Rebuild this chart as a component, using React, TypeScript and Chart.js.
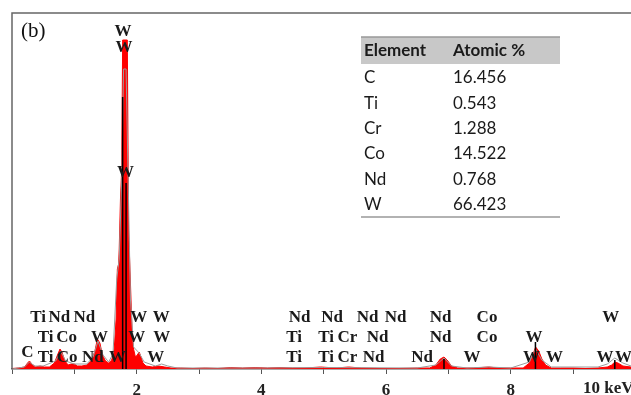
import { useEffect, useRef } from 'react';
import { Chart, registerables } from 'chart.js';

Chart.register(...registerables);

// Measured spectrum (keV, counts)
const spectrumEnergy = [
  0, 0.1, 0.2, 0.25, 0.28, 0.32, 0.38, 0.45, 0.52, 0.6,
  0.68, 0.73, 0.77, 0.8, 0.85, 0.9, 0.95, 1.0, 1.05, 1.12,
  1.2, 1.28, 1.33, 1.37, 1.41, 1.45, 1.5, 1.55, 1.6, 1.64,
  1.67, 1.69, 1.71, 1.72, 1.74, 1.76, 1.775, 1.85, 1.87, 1.9,
  1.925, 1.95, 1.98, 2.01, 2.04, 2.07, 2.1, 2.15, 2.25, 2.35,
  2.45, 2.55, 2.7, 2.9, 3.1, 3.3, 3.5, 3.7, 3.9, 4.1,
  4.3, 4.5, 4.7, 4.95, 5.2, 5.4, 5.6, 5.9, 6.2, 6.5,
  6.7, 6.8, 6.87, 6.93, 6.98, 7.05, 7.15, 7.4, 7.65, 7.8,
  8.0, 8.2, 8.3, 8.36, 8.4, 8.45, 8.5, 8.56, 8.65, 8.8,
  9.0, 9.2, 9.4, 9.55, 9.62, 9.67, 9.72, 9.8, 9.93,
];
const spectrumCounts = [
  5, 10, 20, 60, 80, 50, 20, 30, 20, 20,
  60, 140, 200, 170, 80, 40, 50, 50, 30, 30,
  40, 90, 180, 300, 260, 140, 80, 60, 90, 200,
  500, 1000, 1050, 1200, 1700, 2000, 3290, 3290, 1400, 860,
  400, 200, 120, 140, 170, 120, 60, 30, 20, 30,
  20, 10, 10, 5, 10, 5, 15, 10, 15, 10,
  15, 10, 10, 20, 10, 20, 10, 5, 5, 10,
  10, 40, 100, 120, 90, 30, 10, 10, 20, 10,
  10, 10, 60, 150, 220, 180, 100, 40, 10, 10,
  10, 5, 10, 20, 40, 70, 60, 30, 20,
];

// Fitted envelope (grey line)
const fitEnergy = [
  0, 0.2, 0.28, 0.36, 0.5, 0.7, 0.78, 0.86, 1.0, 1.2,
  1.3, 1.38, 1.46, 1.55, 1.62, 1.68, 1.72, 1.76, 1.79, 1.83,
  1.86, 1.9, 1.95, 2.04, 2.12, 2.3, 2.4, 2.5, 2.65, 3.0,
  4.0, 5.0, 6.5, 6.8, 6.93, 7.05, 7.3, 7.65, 8.0, 8.3,
  8.4, 8.5, 8.65, 9.4, 9.55, 9.67, 9.8, 9.93,
];
const fitCounts = [
  0, 20, 70, 30, 30, 80, 180, 80, 50, 50,
  120, 280, 140, 70, 150, 900, 1100, 1900, 3000, 3000,
  2000, 700, 220, 160, 70, 30, 50, 30, 10, 10,
  10, 15, 10, 40, 110, 30, 10, 20, 10, 70,
  200, 90, 20, 20, 50, 110, 60, 30,
];

// KLM marker lines (black)
const markerEnergy = [1.775, 1.83, 6.93, 8.397, 9.67];
const markerCounts = [2720, 1860, 100, 270, 90];

// Axis
const xTickValues = [2, 4, 6, 8];
const unitLabel = '10 keV';
const panelLabel = '(b)';

// Peak identification labels
const peakLabelText = [
  'Ti', 'Nd', 'Nd', 'W', 'W', 'Nd', 'Nd', 'Nd', 'Nd', 'Nd', 'Co', 'W',
  'Ti', 'Co', 'W', 'W', 'W', 'Ti', 'Ti', 'Cr', 'Nd', 'Nd', 'Co', 'W',
  'C', 'Ti', 'Co', 'Nd', 'W', 'W', 'Ti', 'Ti', 'Cr', 'Nd', 'Nd', 'W', 'W', 'W', 'W', 'W',
  'W', 'W', 'W',
];
const peakLabelEnergy = [
  0.42, 0.761, 1.16, 2.035, 2.396, 4.615, 5.136, 5.705, 6.154, 6.875, 7.62, 9.607,
  0.54, 0.875, 1.402, 2.003, 2.404, 4.527, 5.04, 5.38, 5.865, 6.875, 7.62, 8.373,
  0.248, 0.54, 0.883, 1.298, 1.691, 2.308, 4.527, 5.04, 5.38, 5.801, 6.578, 7.38, 8.333, 8.702, 9.511, 9.808,
  1.779, 1.795, 1.819,
];
const peakLabelCounts = [
  515, 515, 515, 515, 515, 515, 515, 515, 515, 515, 515, 515,
  310, 310, 310, 310, 310, 310, 310, 310, 310, 310, 310, 310,
  160, 115, 115, 115, 115, 115, 115, 115, 115, 115, 115, 115, 115, 115, 115, 115,
  3370, 3210, 1960,
];

// Composition table
const tableHeader = ['Element', 'Atomic %'];
const tableElements = ['C', 'Ti', 'Cr', 'Co', 'Nd', 'W'];
const tableAtomic = ['16.456', '0.543', '1.288', '14.522', '0.768', '66.423'];

const overlayPlugin = {
  id: 'overlay',
  afterDraw(chart: any) {
    const { ctx, chartArea, scales } = chart;
    const xs = scales.x;
    const ys = scales.y;
    ctx.save();
    // frame (left + top)
    ctx.strokeStyle = '#666';
    ctx.lineWidth = 1.5;
    ctx.beginPath();
    ctx.moveTo(chartArea.left, chartArea.bottom);
    ctx.lineTo(chartArea.left, chartArea.top);
    ctx.lineTo(chartArea.right, chartArea.top);
    ctx.stroke();

    // panel label
    ctx.fillStyle = '#111';
    ctx.font = '21px "Liberation Serif"';
    ctx.textAlign = 'left';
    ctx.textBaseline = 'middle';
    ctx.fillText(panelLabel, chartArea.left + 9, chartArea.top + 18);

    // peak labels
    ctx.font = 'bold 17px "Liberation Serif"';
    ctx.textAlign = 'center';
    ctx.fillStyle = '#1a1a1a';
    for (let i = 0; i < peakLabelText.length; i++) {
      ctx.fillText(peakLabelText[i], xs.getPixelForValue(peakLabelEnergy[i]), ys.getPixelForValue(peakLabelCounts[i]));
    }

    // unit label
    ctx.textAlign = 'left';
    ctx.fillStyle = '#222';
    ctx.fillText(unitLabel, xs.getPixelForValue(9.16), chartArea.bottom + 20);

    // table
    const tx = 361;
    const tw = 199;
    const ty = 37;
    const hh = 27;
    ctx.fillStyle = '#c8c8c8';
    ctx.fillRect(tx, ty, tw, hh);
    ctx.strokeStyle = '#999';
    ctx.lineWidth = 1.5;
    ctx.beginPath();
    ctx.moveTo(tx, ty);
    ctx.lineTo(tx + tw, ty);
    ctx.stroke();
    ctx.beginPath();
    ctx.moveTo(tx, 217);
    ctx.lineTo(tx + tw, 217);
    ctx.stroke();
    ctx.fillStyle = '#1a1a1a';
    ctx.textBaseline = 'middle';
    ctx.font = 'bold 17px Lato';
    ctx.fillText(tableHeader[0], 364, ty + 14);
    ctx.fillText(tableHeader[1], 453, ty + 14);
    ctx.font = '17px Lato';
    for (let i = 0; i < tableElements.length; i++) {
      const y = 78 + i * 25.3;
      ctx.fillText(tableElements[i], 364, y);
      ctx.fillText(tableAtomic[i], 453, y);
    }
    ctx.restore();
  },
};

export default function App() {
  const ref = useRef<HTMLCanvasElement>(null);
  useEffect(() => {
    if (!ref.current) return;
    const spectrum = spectrumEnergy.map((e, i) => ({ x: e, y: spectrumCounts[i] }));
    const fit = fitEnergy.map((e, i) => ({ x: e, y: fitCounts[i] }));
    const markers: any[] = [];
    markerEnergy.forEach((e, i) => {
      markers.push({ x: e, y: 0 });
      markers.push({ x: e, y: markerCounts[i] });
      markers.push({ x: e + 0.001, y: null });
    });
    const chart = new Chart(ref.current, {
      type: 'line',
      data: {
        datasets: [
          {
            data: markers,
            borderColor: '#000',
            borderWidth: 1.5,
            pointRadius: 0,
            spanGaps: false,
            fill: false,
            order: 0,
          },
          {
            data: fit,
            borderColor: '#9a9a9a',
            borderWidth: 1,
            pointRadius: 0,
            fill: false,
            order: 1,
          },
          {
            data: spectrum,
            borderColor: '#ff0000',
            backgroundColor: '#ff0000',
            borderWidth: 1,
            pointRadius: 0,
            fill: 'origin',
            order: 2,
          },
        ],
      },
      options: {
        responsive: false,
        animation: false,
        maintainAspectRatio: false,
        parsing: false as any,
        layout: { padding: { left: 12, top: 13, right: 0, bottom: 0 } },
        plugins: { legend: { display: false }, tooltip: { enabled: false } },
        scales: {
          x: {
            type: 'linear',
            min: 0,
            max: 9.93,
            afterFit: (s: any) => {
              s.height = 26;
            },
            border: { display: true, color: '#555', width: 1.5 },
            grid: { drawOnChartArea: false, drawTicks: true, tickLength: 5, color: '#555', lineWidth: 1 },
            ticks: {
              stepSize: 1,
              includeBounds: false,
              autoSkip: false,
              maxRotation: 0,
              padding: 6,
              color: '#222',
              font: { family: 'Liberation Serif', size: 17, weight: 'bold' },
              callback: (v: any) => (xTickValues.includes(Number(v)) ? String(v) : ''),
            },
          },
          y: { display: false, min: 0, max: 3560 },
        },
      },
      plugins: [overlayPlugin],
    });
    return () => chart.destroy();
  }, []);
  return (
    <div style={{ position: 'fixed', left: 0, top: 0, width: 631, height: 395, background: '#fff' }}>
      <canvas ref={ref} width={631} height={395} style={{ display: 'block' }} />
    </div>
  );
}
